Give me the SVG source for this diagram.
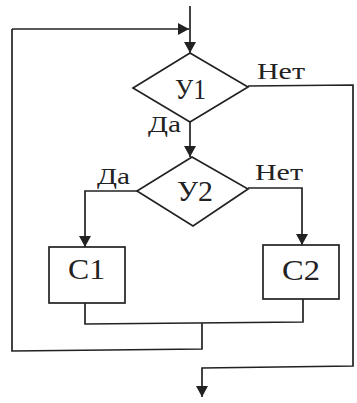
<svg xmlns="http://www.w3.org/2000/svg" width="357" height="403" viewBox="0 0 357 403">
<defs>
<style>
.s{fill:none;stroke:#222;stroke-width:1.7}
.b{fill:#fff;stroke:#222;stroke-width:1.7}
.t{font-family:"Liberation Serif",serif;fill:#222}
.big{font-size:30px}
.sm{font-size:23px}
</style>
<marker id="a" markerWidth="12" markerHeight="12" refX="11" refY="6" orient="auto" markerUnits="userSpaceOnUse">
<path d="M0,0 L11,6 L0,12 Z" fill="#222"/>
</marker>
</defs>
<g id="connectors">
<line class="s" x1="190" y1="6" x2="190" y2="53" marker-end="url(#a)"/>
<polyline class="s" points="12,29 12,351 202,349 202,323" />
<line class="s" x1="12" y1="29" x2="189" y2="29" marker-end="url(#a)"/>
<line class="s" x1="190" y1="122" x2="190" y2="157" marker-end="url(#a)"/>
<polyline class="s" points="248,86 353,85 353,366 202,368 202,397" marker-end="url(#a)"/>
<polyline class="s" points="137,191 85,191 85,247" marker-end="url(#a)"/>
<polyline class="s" points="248,188 302,188 302,245" marker-end="url(#a)"/>
<polyline class="s" points="85,303 85,324 303,322 303,299"/>
</g>
<g id="u1">
<polygon class="b" points="190,53 248,87 190,122 133,88"/>
<text class="t big" x="175" y="99" textLength="31" lengthAdjust="spacingAndGlyphs">У1</text>
</g>
<g id="u2">
<polygon class="b" points="192,157 248,189 193,226 137,191"/>
<text class="t big" x="177" y="201" textLength="36" lengthAdjust="spacingAndGlyphs">У2</text>
</g>
<g id="c1">
<rect class="b" x="49" y="247" width="76" height="56"/>
<text class="t big" x="68" y="279" textLength="37" lengthAdjust="spacingAndGlyphs">С1</text>
</g>
<g id="c2">
<rect class="b" x="263" y="245" width="76" height="54"/>
<text class="t big" x="282" y="280" textLength="38" lengthAdjust="spacingAndGlyphs">С2</text>
</g>
<g id="labels">
<text class="t sm" x="257" y="79" textLength="48" lengthAdjust="spacingAndGlyphs">Нет</text>
<text class="t sm" x="148" y="132" textLength="33" lengthAdjust="spacingAndGlyphs">Да</text>
<text class="t sm" x="97" y="184" textLength="33" lengthAdjust="spacingAndGlyphs">Да</text>
<text class="t sm" x="255" y="180" textLength="48" lengthAdjust="spacingAndGlyphs">Нет</text>
</g>
</svg>
